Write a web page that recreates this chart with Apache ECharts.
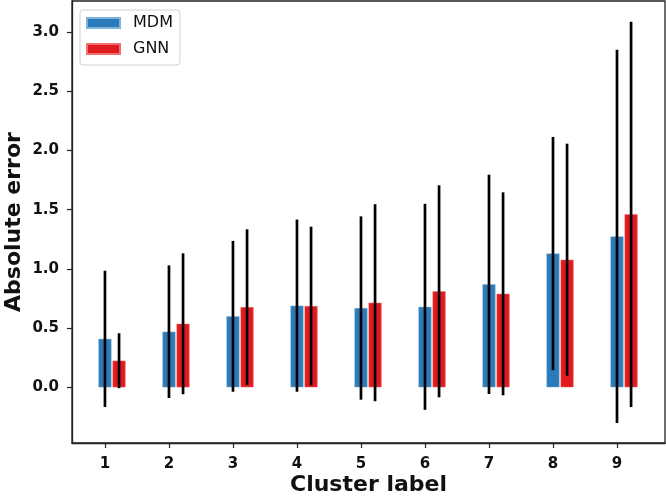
<!DOCTYPE html>
<html><head><meta charset="utf-8">
<script src="https://cdn.jsdelivr.net/npm/echarts@6/dist/echarts.min.js"></script>
<style>html,body{margin:0;padding:0;background:#fff}#c{width:666px;height:498px}</style>
</head><body><div id="c"></div>
<script>
const clusters = [1, 2, 3, 4, 5, 6, 7, 8, 9];
const mdmMean = [0.41, 0.47, 0.60, 0.69, 0.67, 0.68, 0.87, 1.13, 1.275];
const mdmStd  = [0.575, 0.56, 0.637, 0.727, 0.774, 0.87, 0.926, 0.985, 1.577];
const gnnMean = [0.225, 0.537, 0.678, 0.687, 0.715, 0.811, 0.79, 1.078, 1.461];
const gnnStd  = [0.232, 0.595, 0.657, 0.67, 0.832, 0.895, 0.857, 0.98, 1.626];
const yTicks = [0, 0.5, 1.0, 1.5, 2.0, 2.5, 3.0];
const seriesNames = ['MDM', 'GNN'];

const OFFSET = 0.22;
const FONT = 'DejaVu Sans';
const BLUE = '#2b7bba', RED = '#e01b20';

const mdmBars = clusters.map((c, i) => [c, mdmMean[i]]);
const gnnBars = clusters.map((c, i) => [c + OFFSET, gnnMean[i]]);
const errData = [];
clusters.forEach((c, i) => {
  errData.push([c, mdmMean[i] - mdmStd[i], mdmMean[i] + mdmStd[i]]);
  errData.push([c + OFFSET, gnnMean[i] - gnnStd[i], gnnMean[i] + gnnStd[i]]);
});

const chart = echarts.init(document.getElementById('c'));
chart.setOption({
  animation: false,
  textStyle: { fontFamily: FONT },
  grid: { left: 72, right: 1, top: 1, bottom: 55, outerBoundsMode: 'none', containLabel: false, show: true, borderColor: '#222', borderWidth: 1.3, backgroundColor: '#fff' },
  legend: {
    left: 80, top: 10, orient: 'vertical',
    data: seriesNames,
    itemWidth: 33, itemHeight: 10, itemGap: 10,
    padding: [5, 7, 8, 6],
    borderColor: '#d0d0d0', borderWidth: 1, borderRadius: 3,
    backgroundColor: '#fff',
    textStyle: { fontFamily: FONT, fontSize: 16, lineHeight: 15, color: '#111', padding: [0, 0, 0, 8] },
    icon: 'rect'
  },
  xAxis: {
    type: 'value', min: 0.485, max: 9.75,
    name: 'Cluster label', nameLocation: 'middle', nameGap: 31, nameMoveOverlap: false,
    nameTextStyle: { fontFamily: FONT, fontSize: 22, fontWeight: 'bold', color: '#111' },
    axisLine: { show: true, onZero: false, lineStyle: { color: '#222', width: 1.3 } },
    axisTick: { show: true, length: 5, lineStyle: { color: '#222', width: 1.2 }, customValues: clusters },
    axisLabel: { fontFamily: FONT, fontSize: 15, fontWeight: 'bold', color: '#111', margin: 14, customValues: clusters },
    splitLine: { show: false }
  },
  yAxis: {
    type: 'value', min: -0.47, max: 3.263,
    name: 'Absolute error', nameLocation: 'middle', nameGap: 47, nameMoveOverlap: false,
    nameTextStyle: { fontFamily: FONT, fontSize: 22, fontWeight: 'bold', color: '#111' },
    axisLine: { show: true, onZero: false, lineStyle: { color: '#222', width: 1.3 } },
    axisTick: { show: true, length: 5, lineStyle: { color: '#222', width: 1.2 }, customValues: yTicks },
    axisLabel: { fontFamily: FONT, fontSize: 15, fontWeight: 'bold', color: '#111', margin: 13, customValues: yTicks, formatter: v => v.toFixed(1) },
    splitLine: { show: false }
  },
  series: [
    { name: 'MDM', type: 'bar', data: mdmBars, barWidth: 13, barGap: '-100%', itemStyle: { color: BLUE, borderColor: '#7fb3d9', borderWidth: 0.5 } },
    { name: 'GNN', type: 'bar', data: gnnBars, barWidth: 13, barGap: '-100%', itemStyle: { color: RED, borderColor: '#f07070', borderWidth: 0.5 } },
    {
      type: 'custom', data: errData, z: 10,
      renderItem: function (params, api) {
        const lo = api.coord([api.value(0), api.value(1)]);
        const hi = api.coord([api.value(0), api.value(2)]);
        return { type: 'line', shape: { x1: lo[0], y1: lo[1], x2: hi[0], y2: hi[1] }, style: { stroke: '#000', lineWidth: 2.7 } };
      }
    }
  ]
});
</script></body></html>
